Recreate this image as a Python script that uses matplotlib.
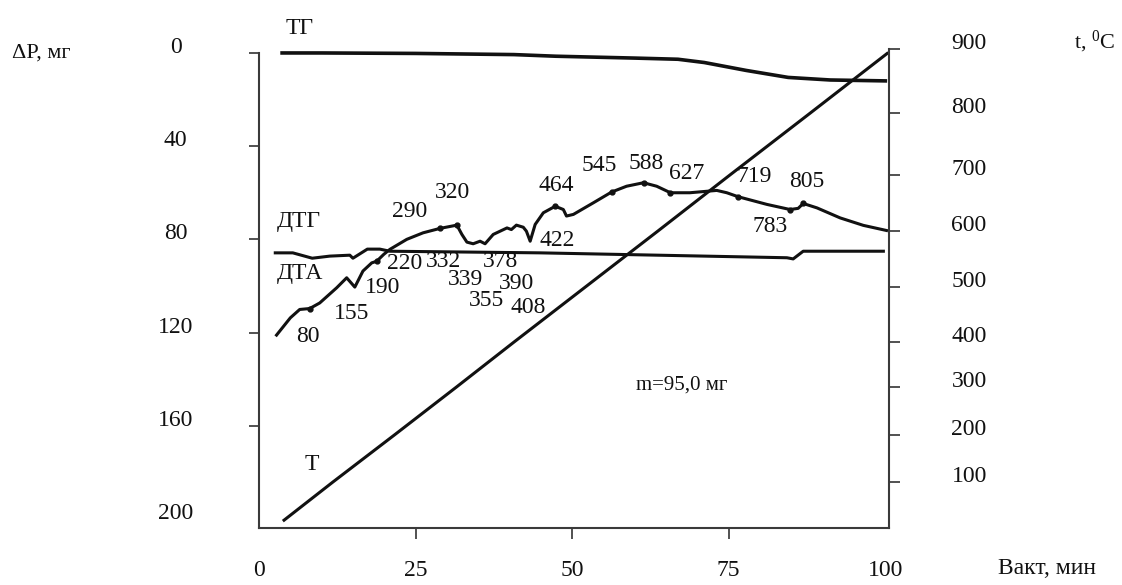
import numpy as np
import matplotlib
matplotlib.use("Agg")
import matplotlib.pyplot as plt

plt.rcParams.update({
    "font.family": ["Liberation Serif", "DejaVu Serif"],
    "mathtext.fontset": "custom",
    "mathtext.rm": "Liberation Serif",
    "font.size": 17,
    "text.color": "#111111",
    "xtick.color": "#333333", "ytick.color": "#333333",
    "xtick.labelcolor": "#111111", "ytick.labelcolor": "#111111",
})

INK = "#111111"
SPINE = "#3a3a3a"

# ── data (time in min, ΔP in mg, t in °C) ─────────────────────────────────────
TG_TIME = [3.4, 10, 25, 40.7, 47.4, 60, 66.9, 71.1, 77.8, 84.5, 91.2, 100.3]
TG_MASS = [0, 0, 0.2, 0.7, 1.4, 2.2, 2.7, 4.1, 7.5, 10.5, 11.6, 12.0]

DTG_TIME = [2.6, 5.4, 8.5, 11.3, 14.5, 15.0, 17.3, 19.3, 20.9, 44.9,
            84.3, 85.3, 86.9, 99.7]
DTG_VAL = [85.8, 85.8, 88.1, 87.2, 86.8, 88.1, 84.2, 84.2, 85.1, 85.8,
           87.9, 88.4, 85.1, 85.1]

DTA_TIME = [2.8, 5.0, 6.5, 8.1, 9.7, 12.4, 14.0, 15.3, 16.6, 18.0, 18.8, 19.9,
            20.9, 23.6, 26.2, 28.9, 31.6, 32.4, 33.2, 34.2, 35.3, 36.1, 37.4,
            38.5, 39.6, 40.3, 41.1, 42.2, 42.7, 43.3, 44.1, 45.4, 47.3, 48.6,
            49.1, 50.2, 53.4, 56.3, 58.7, 61.4, 63.5, 65.7, 68.8, 73.1, 74.7,
            76.5, 81.1, 84.8, 86.1, 86.9, 89.1, 92.8, 96.5, 100.2]
DTA_VAL = [121.1, 113.7, 110.1, 109.7, 107.3, 100.8, 96.5, 100.5, 93.6, 90.1,
           89.4, 86.5, 84.3, 80.0, 77.2, 75.3, 73.9, 77.9, 81.2, 81.9, 80.8,
           81.9, 77.9, 76.5, 75.1, 75.8, 73.9, 74.8, 76.5, 80.8, 73.6, 68.6,
           65.8, 67.2, 70.0, 69.3, 64.3, 59.7, 57.2, 55.7, 57.2, 60.0, 60.0,
           59.0, 60.0, 61.7, 65.0, 67.2, 66.7, 64.6, 66.5, 70.8, 74.0, 76.2]

DOT_TIME = [8.1, 18.8, 28.9, 31.6, 47.3, 56.3, 61.4, 65.7, 76.5, 84.8, 86.9]
DOT_VAL = [109.7, 89.4, 75.3, 73.9, 65.8, 59.7, 55.7, 60.0, 61.7, 67.2, 64.6]

T_TIME = [4.0, 11.8, 21.6, 31.5, 40.7, 52.1, 63.7, 75.2, 88.0, 100.3]
T_TEMP = [17, 100, 200, 300, 400, 500, 600, 700, 800, 893]

# peak temperatures written next to the DTA curve
PEAK_TEXT = ["80", "155", "190", "220", "332", "339", "355", "378", "390",
             "408", "290", "320", "422", "464", "545", "588", "627", "719",
             "783", "805"]
PEAK_TIME = [7.8, 14.8, 19.8, 23.3, 29.4, 32.9, 36.4, 38.5, 41.1, 43.0, 24.1,
             30.9, 47.6, 47.5, 54.4, 61.8, 68.3, 79.0, 81.6, 87.5]
PEAK_VAL = [121.8, 111.7, 100.6, 90.3, 89.6, 97.1, 106.3, 89.6, 99.1, 109.1,
            68.1, 60.0, 80.3, 56.7, 48.5, 47.3, 51.6, 53.1, 74.6, 55.2]

X_TICKS = [25, 50, 75]          # ticks drawn on the axis
X_ENDS = [0, 100]               # labelled only, they sit on the spines
P_TICKS = [0, 40, 80, 120, 160]
P_ENDS = [200]
T_TICKS = [0, 100, 200, 300, 400, 500, 600, 700, 800, 900]
# the original temperature scale is hand drawn: uneven spacing of its ticks
T_POS = [0.0, 0.096, 0.194, 0.294, 0.388, 0.503, 0.620, 0.737, 0.866, 1.0]


def t_fwd(v):
    return np.interp(v, [-900] + T_TICKS + [1800], [-1.0] + T_POS + [2.0])


def t_inv(p):
    return np.interp(p, [-1.0] + T_POS + [2.0], [-900] + T_TICKS + [1800])


fig = plt.figure(figsize=(11.22, 5.85), dpi=100)
ax = fig.add_axes([259 / 1122, 1 - 528 / 585, 630 / 1122, 479 / 585])

ax.plot(TG_TIME, TG_MASS, color=INK, lw=2.6, solid_capstyle="butt")
ax.plot(DTG_TIME, DTG_VAL, color=INK, lw=2.2)
ax.plot(DTA_TIME, DTA_VAL, color=INK, lw=2.2)
ax.plot(DOT_TIME, DOT_VAL, "o", color=INK, ms=3.5)

ax.set_xlim(0, 100.6)
ax.set_ylim(203.9, -1.7)
ax.set_xticks(X_TICKS)
ax.set_xticks(X_ENDS, labels=[str(v) for v in X_ENDS], minor=True)
ax.set_yticks(P_TICKS)
ax.set_yticks(P_ENDS, labels=[str(v) for v in P_ENDS], minor=True)
for side in ("top", "right"):
    ax.spines[side].set_visible(False)
for side in ("left", "bottom"):
    ax.spines[side].set_color(SPINE)
    ax.spines[side].set_linewidth(1.5)
ax.spines["left"].set_bounds(0, 203.9)
ax.tick_params(axis="x", which="major", direction="out", length=8, width=1.2, pad=15)
ax.tick_params(axis="x", which="minor", length=0, pad=15 + 8)
ax.tick_params(axis="y", which="major", direction="out", length=7, width=1.2, pad=53)
ax.tick_params(axis="y", which="minor", length=0, pad=53 + 7)
for lbl in ax.get_yticklabels() + ax.get_yticklabels(minor=True):
    lbl.set_horizontalalignment("center")
    lbl.set_verticalalignment("baseline")

ax2 = ax.twinx()
ax2.set_yscale("function", functions=(t_fwd, t_inv))
ax2.plot(T_TIME, T_TEMP, color=INK, lw=2.2)
ax2.set_ylim(0, 900)
ax2.set_yticks(T_TICKS[1:])
for side in ("top", "left", "bottom"):
    ax2.spines[side].set_visible(False)
ax2.spines["right"].set_color(SPINE)
ax2.spines["right"].set_linewidth(1.5)
ax2.tick_params(axis="y", direction="out", length=8, width=1.2, pad=37)
for lbl in ax2.get_yticklabels():
    lbl.set_verticalalignment("baseline")

for txt, tx, vy in zip(PEAK_TEXT, PEAK_TIME, PEAK_VAL):
    ax.text(tx, vy, txt, ha="center", va="center", fontsize=17)

ax.text(6.5, -10.7, "ТГ", ha="center", va="center", fontsize=17)
ax.text(6.3, 72.4, "ДТГ", ha="center", va="center", fontsize=17)
ax.text(6.5, 94.6, "ДТА", ha="center", va="center", fontsize=17)
ax.text(8.4, 176.8, "Т", ha="center", va="center", fontsize=17)
ax.text(67.5, 142.5, "m=95,0 мг", ha="center", va="center", fontsize=15)

fig.text(41 / 1122, 1 - 53 / 585, "ΔP, мг", ha="center", va="center", fontsize=16)
fig.text(1095 / 1122, 1 - 42 / 585, r"t, $\mathregular{^0}$C", ha="center",
         va="center", fontsize=16)
fig.text(1047 / 1122, 1 - 568 / 585, "Вакт, мин", ha="center", va="center",
         fontsize=17)

fig.savefig("out.png", dpi=100, facecolor="white")
